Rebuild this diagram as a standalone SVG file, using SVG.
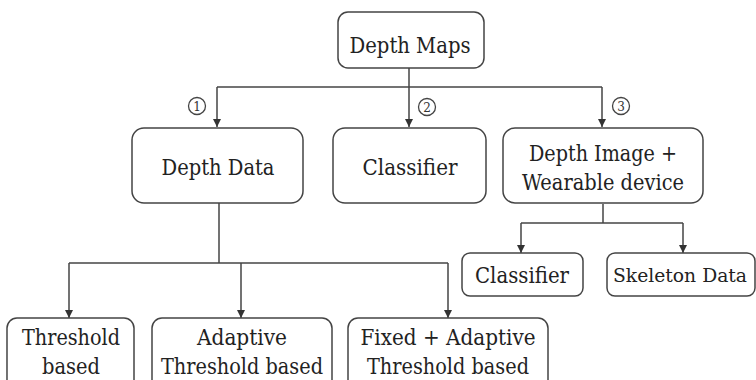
<svg xmlns="http://www.w3.org/2000/svg" width="756" height="380" viewBox="0 0 756 380">
<defs>
<style>
.box{fill:#fff;stroke:#444;stroke-width:1.5}
text{font-family:'DejaVu Serif',serif;fill:#222;text-anchor:middle}
.t{font-size:22px}
.n{font-size:12px;fill:#333}
.c{fill:none;stroke:#444;stroke-width:1.3}
.ln{fill:none;stroke:#444;stroke-width:1.5}
</style>
<marker id="ah" viewBox="0 0 10 10" refX="10" refY="5" markerWidth="8" markerHeight="8" markerUnits="userSpaceOnUse" orient="auto">
<path d="M0,0 L10,5 L0,10 z" fill="#333"/>
</marker>
</defs>
<rect width="756" height="380" fill="#fff"/>
<g id="connectors">
<path class="ln" d="M409,68 V87"/>
<path class="ln" d="M217,87 H602"/>
<path class="ln" d="M217,87 V127" marker-end="url(#ah)"/>
<path class="ln" d="M409,87 V127" marker-end="url(#ah)"/>
<path class="ln" d="M602,87 V127" marker-end="url(#ah)"/>
<path class="ln" d="M219,203 V263"/>
<path class="ln" d="M69,263 H448"/>
<path class="ln" d="M69,263 V318" marker-end="url(#ah)"/>
<path class="ln" d="M241,263 V318" marker-end="url(#ah)"/>
<path class="ln" d="M448,263 V318" marker-end="url(#ah)"/>
<path class="ln" d="M603,204 V223"/>
<path class="ln" d="M521,223 H683"/>
<path class="ln" d="M521,223 V253" marker-end="url(#ah)"/>
<path class="ln" d="M683,223 V253" marker-end="url(#ah)"/>
<g id="labels">
<circle class="c" cx="197" cy="106" r="8.5"/><text class="n" x="197" y="110.5">1</text>
<circle class="c" cx="427" cy="107" r="8.5"/><text class="n" x="427" y="111.5">2</text>
<circle class="c" cx="621" cy="106" r="8.5"/><text class="n" x="621" y="110.5">3</text>
</g>
</g>
<g id="depth-maps">
<rect class="box" x="338" y="12" width="146" height="56" rx="10"/>
<text class="t" x="410" y="53" textLength="121" lengthAdjust="spacingAndGlyphs">Depth Maps</text>
</g>
<g id="depth-data">
<rect class="box" x="132" y="128" width="171" height="75" rx="12"/>
<text class="t" x="218" y="175" textLength="113" lengthAdjust="spacingAndGlyphs">Depth Data</text>
</g>
<g id="classifier">
<rect class="box" x="333" y="128" width="153" height="75" rx="12"/>
<text class="t" x="410" y="175" textLength="95" lengthAdjust="spacingAndGlyphs">Classifier</text>
</g>
<g id="depth-image">
<rect class="box" x="503" y="128" width="200" height="75" rx="12"/>
<text class="t" x="603" y="161" textLength="148" lengthAdjust="spacingAndGlyphs">Depth Image +</text>
<text class="t" x="603" y="190" textLength="162" lengthAdjust="spacingAndGlyphs">Wearable device</text>
</g>
<g id="classifier2">
<rect class="box" x="462" y="253" width="121" height="43" rx="8"/>
<text class="t" x="522" y="283" textLength="94" lengthAdjust="spacingAndGlyphs">Classifier</text>
</g>
<g id="skeleton-data">
<rect class="box" x="607" y="253" width="148" height="43" rx="8"/>
<text x="680" y="282" font-size="19" textLength="134" lengthAdjust="spacingAndGlyphs">Skeleton Data</text>
</g>
<g id="threshold">
<rect class="box" x="7" y="318" width="127" height="75" rx="10"/>
<text class="t" x="71" y="345" textLength="98" lengthAdjust="spacingAndGlyphs">Threshold</text>
<text class="t" x="71" y="374" textLength="58" lengthAdjust="spacingAndGlyphs">based</text>
</g>
<g id="adaptive">
<rect class="box" x="152" y="318" width="180" height="75" rx="10"/>
<text class="t" x="242" y="345" textLength="90" lengthAdjust="spacingAndGlyphs">Adaptive</text>
<text class="t" x="242" y="374" textLength="162" lengthAdjust="spacingAndGlyphs">Threshold based</text>
</g>
<g id="fixed-adaptive">
<rect class="box" x="348" y="318" width="200" height="75" rx="10"/>
<text class="t" x="448" y="345" textLength="175" lengthAdjust="spacingAndGlyphs">Fixed + Adaptive</text>
<text class="t" x="448" y="374" textLength="162" lengthAdjust="spacingAndGlyphs">Threshold based</text>
</g>
</svg>
